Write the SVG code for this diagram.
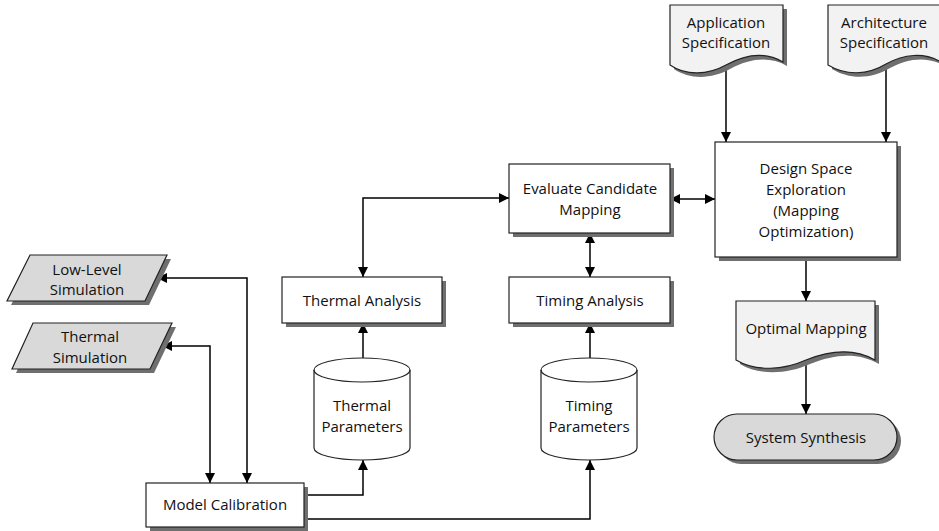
<svg xmlns="http://www.w3.org/2000/svg" width="939" height="531" viewBox="0 0 939 531">
  <defs>
    <marker id="arr" viewBox="0 0 10 10" refX="10" refY="5" markerWidth="10" markerHeight="10" markerUnits="userSpaceOnUse" orient="auto-start-reverse">
      <path d="M0,0 L10,5 L0,10 Z" fill="#000"/>
    </marker>
  </defs>
  <style>
    .shape { stroke: #222; stroke-width: 1.2; }
    .shadow { fill: #6f6f6f; stroke: none; }
    .white { fill: #fff; }
    .light { fill: #f2f2f2; }
    .grey { fill: #d9d9d9; }
    .label { font-family: "Open Sans", "Liberation Sans", sans-serif; font-size: 15px; fill: #111; text-anchor: middle; }
    .conn { fill: none; stroke: #000; stroke-width: 1.5; }
  </style>
  <rect width="939" height="531" fill="#fff"/>

  <!-- connectors -->
  <g id="connectors">
    <line class="conn" x1="726" y1="65" x2="726" y2="142" marker-end="url(#arr)"/>
    <line class="conn" x1="886" y1="64" x2="886" y2="142" marker-end="url(#arr)"/>
    <line class="conn" x1="806" y1="257" x2="806" y2="301" marker-end="url(#arr)"/>
    <line class="conn" x1="806" y1="360" x2="806" y2="414" marker-end="url(#arr)"/>
    <line class="conn" x1="670" y1="199" x2="715" y2="199" marker-start="url(#arr)" marker-end="url(#arr)"/>
    <polyline class="conn" points="363,277 363,198 509,198" marker-start="url(#arr)" marker-end="url(#arr)"/>
    <line class="conn" x1="590" y1="233" x2="590" y2="277" marker-start="url(#arr)" marker-end="url(#arr)"/>
    <line class="conn" x1="363" y1="358" x2="363" y2="323" marker-end="url(#arr)"/>
    <line class="conn" x1="590" y1="358" x2="590" y2="323" marker-end="url(#arr)"/>
    <polyline class="conn" points="304,495 363,495 363,460" marker-end="url(#arr)"/>
    <polyline class="conn" points="304,519 590,519 590,460" marker-end="url(#arr)"/>
    <polyline class="conn" points="157,278 247,278 247,483" marker-start="url(#arr)" marker-end="url(#arr)"/>
    <polyline class="conn" points="162,346 210,346 210,483" marker-start="url(#arr)" marker-end="url(#arr)"/>
  </g>

  <!-- Application Specification document -->
  <g id="app-spec">
    <path class="shadow" d="M674,9 H787 V66 C770,56 750,58 730,69 C712,79 690,80 674,69 Z"/>
    <path class="shape light" d="M670,5 H783 V62 C766,52 746,54 726,65 C708,75 686,76 670,65 Z"/>
    <text class="label" x="726" y="28">Application</text>
    <text class="label" x="726" y="48">Specification</text>
  </g>

  <!-- Architecture Specification document -->
  <g id="arch-spec">
    <path class="shadow" d="M832,9 H945 V66 C928,56 908,58 890,68 C872,79 850,80 832,69 Z"/>
    <path class="shape light" d="M828,5 H941 V62 C924,52 904,54 886,64 C868,75 846,76 828,65 Z"/>
    <text class="label" x="884" y="28">Architecture</text>
    <text class="label" x="884" y="48">Specification</text>
  </g>

  <!-- Design Space Exploration -->
  <g id="dse">
    <rect class="shadow" x="719" y="146" width="182" height="115"/>
    <rect class="shape white" x="715" y="142" width="182" height="115"/>
    <text class="label" x="806" y="174">Design Space</text>
    <text class="label" x="806" y="195">Exploration</text>
    <text class="label" x="806" y="216">(Mapping</text>
    <text class="label" x="806" y="237">Optimization)</text>
  </g>

  <!-- Evaluate Candidate Mapping -->
  <g id="evaluate">
    <rect class="shadow" x="513" y="168" width="161" height="69"/>
    <rect class="shape white" x="509" y="164" width="161" height="69"/>
    <text class="label" x="590" y="194">Evaluate Candidate</text>
    <text class="label" x="590" y="215">Mapping</text>
  </g>

  <!-- Thermal Analysis -->
  <g id="thermal-analysis">
    <rect class="shadow" x="286" y="281" width="160" height="46"/>
    <rect class="shape white" x="282" y="277" width="160" height="46"/>
    <text class="label" x="362" y="306">Thermal Analysis</text>
  </g>

  <!-- Timing Analysis -->
  <g id="timing-analysis">
    <rect class="shadow" x="513" y="281" width="161" height="46"/>
    <rect class="shape white" x="509" y="277" width="161" height="46"/>
    <text class="label" x="590" y="306">Timing Analysis</text>
  </g>

  <!-- Thermal Parameters store -->
  <g id="thermal-params">
    <path class="shape white" d="M314,370 A48,12 0 0 1 410,370 V448 A48,12 0 0 1 314,448 Z"/>
    <path class="shape" fill="none" d="M314,370 A48,12 0 0 0 410,370"/>
    <text class="label" x="362" y="411">Thermal</text>
    <text class="label" x="362" y="432">Parameters</text>
  </g>

  <!-- Timing Parameters store -->
  <g id="timing-params">
    <path class="shape white" d="M541,370 A48,12 0 0 1 637,370 V448 A48,12 0 0 1 541,448 Z"/>
    <path class="shape" fill="none" d="M541,370 A48,12 0 0 0 637,370"/>
    <text class="label" x="589" y="411">Timing</text>
    <text class="label" x="589" y="432">Parameters</text>
  </g>

  <!-- Model Calibration -->
  <g id="model-calibration">
    <rect class="shadow" x="150" y="487" width="158" height="44"/>
    <rect class="shape white" x="146" y="483" width="158" height="44"/>
    <text class="label" x="225" y="510">Model Calibration</text>
  </g>

  <!-- Low-Level Simulation -->
  <g id="low-level-sim">
    <path class="shadow" d="M34,259 H171 L149,305 H11 Z"/>
    <path class="shape grey" d="M30,255 H167 L145,301 H7 Z"/>
    <text class="label" x="87" y="275">Low-Level</text>
    <text class="label" x="87" y="295">Simulation</text>
  </g>

  <!-- Thermal Simulation -->
  <g id="thermal-sim">
    <path class="shadow" d="M37,327 H176 L154,373 H16 Z"/>
    <path class="shape grey" d="M33,323 H172 L150,369 H12 Z"/>
    <text class="label" x="90" y="342">Thermal</text>
    <text class="label" x="90" y="363">Simulation</text>
  </g>

  <!-- Optimal Mapping document -->
  <g id="optimal-mapping">
    <path class="shadow" d="M740,305 H879 V364 C858,352 835,354 810,364 C788,374 760,376 740,364 Z"/>
    <path class="shape light" d="M736,301 H875 V360 C854,348 831,350 806,360 C784,370 756,372 736,360 Z"/>
    <text class="label" x="806" y="334">Optimal Mapping</text>
  </g>

  <!-- System Synthesis terminator -->
  <g id="system-synthesis">
    <rect class="shadow" x="718" y="418" width="183" height="46" rx="23" ry="23"/>
    <rect class="shape grey" x="714" y="414" width="183" height="46" rx="23" ry="23"/>
    <text class="label" x="806" y="443">System Synthesis</text>
  </g>
</svg>
